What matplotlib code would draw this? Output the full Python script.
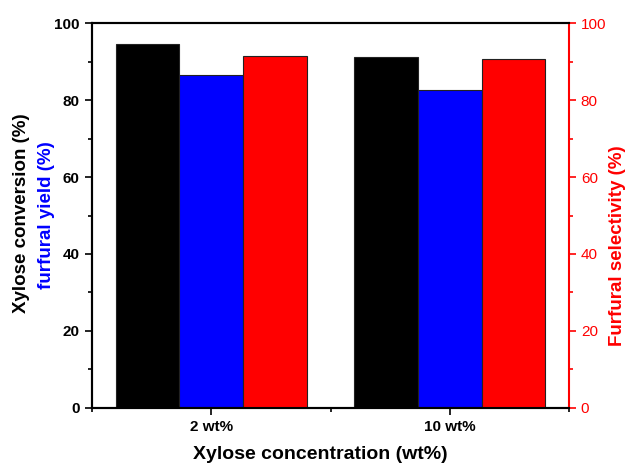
import matplotlib
matplotlib.use("Agg")
import matplotlib.pyplot as plt
import numpy as np
from matplotlib.ticker import MultipleLocator, FixedLocator

plt.rcParams['font.family'] = ['Liberation Sans', 'DejaVu Sans']

categories = ["2 wt%", "10 wt%"]
conversion = [94.6, 91.1]
yield_ = [86.6, 82.5]
selectivity = [91.5, 90.6]

fig = plt.figure(figsize=(6.25, 4.66), dpi=100)
ax = fig.add_axes([0.1472, 0.1245, 0.7632, 0.8261])
x = np.arange(1, len(categories) + 1)
w = 0.2667
ax.bar(x - w, conversion, w, color='black', edgecolor='#222222', linewidth=0.8)
ax.bar(x, yield_, w, color='#0000ff', edgecolor='#222222', linewidth=0.8)
ax2 = ax.twinx()
ax2.bar(x + w, selectivity, w, color='#ff0000', edgecolor='#222222', linewidth=0.8)

ax.set_xlim(0.5, 2.5)
ax.set_ylim(0, 100)
ax2.set_ylim(0, 100)
ax.set_xticks(x)
ax.set_xticklabels(categories, fontweight='bold', fontsize=11)
ax.xaxis.set_minor_locator(FixedLocator([0.5, 1.5, 2.5]))
ax.yaxis.set_major_locator(MultipleLocator(20))
ax.yaxis.set_minor_locator(MultipleLocator(10))
ax2.yaxis.set_major_locator(MultipleLocator(20))
ax2.yaxis.set_minor_locator(MultipleLocator(10))

for lab in ax.get_yticklabels():
    lab.set_fontweight('bold')
    lab.set_fontsize(11)
ax.tick_params(axis='both', which='major', direction='out', length=5, width=1.2, pad=4)
ax.tick_params(axis='both', which='minor', direction='out', length=3, width=1.2)
ax2.tick_params(axis='y', which='major', direction='out', length=5, width=1.2,
                colors='#ff0000', labelsize=11)
ax2.tick_params(axis='y', which='minor', direction='out', length=3, width=1.2,
                colors='#ff0000')

for sp in ['left', 'bottom', 'top']:
    ax.spines[sp].set_linewidth(1.5)
    ax2.spines[sp].set_linewidth(1.5)
ax2.spines['right'].set_color('#ff0000')
ax2.spines['right'].set_linewidth(1.5)
ax.spines['right'].set_visible(False)

fig.text(0.512, 0.024, "Xylose concentration (wt%)", fontweight='bold',
         fontsize=14, color='black', ha='center', va='center')
fig.text(0.988, 0.472, "Furfural selectivity (%)", rotation=90, fontweight='bold',
         fontsize=13.5, color='#ff0000', ha='center', va='center')
fig.text(0.034, 0.543, "Xylose conversion (%)", rotation=90, fontweight='bold',
         fontsize=13.5, color='black', ha='center', va='center')
fig.text(0.075, 0.539, "furfural yield (%)", rotation=90, fontweight='bold',
         fontsize=13.5, color='#0000ff', ha='center', va='center')

fig.savefig("out.png", dpi=100)
